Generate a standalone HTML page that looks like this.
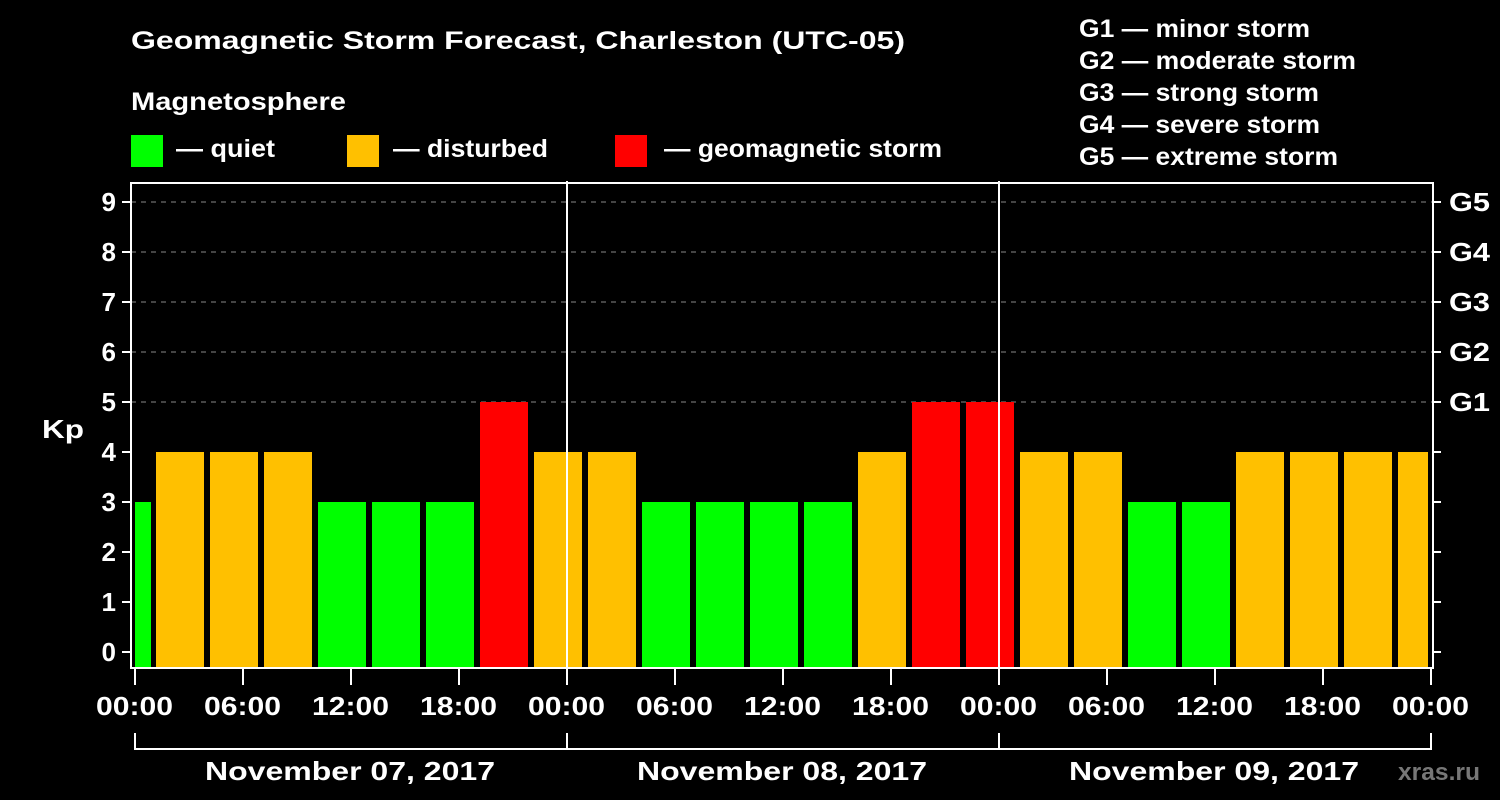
<!DOCTYPE html><html><head><style>body{margin:0;background:#000}svg{display:block}text{font-family:"Liberation Sans",sans-serif;font-weight:bold;fill:#fff}</style></head><body>
<svg width="1500" height="800" xmlns="http://www.w3.org/2000/svg">
<rect width="1500" height="800" fill="#000"/>
<g font-size="25" lengthAdjust="spacingAndGlyphs">
<text x="131" y="49" textLength="774" lengthAdjust="spacingAndGlyphs">Geomagnetic Storm Forecast, Charleston (UTC-05)</text>
<text x="131" y="110" textLength="215" lengthAdjust="spacingAndGlyphs">Magnetosphere</text>
<text x="176" y="157" textLength="99" lengthAdjust="spacingAndGlyphs">— quiet</text>
<text x="393" y="157" textLength="155" lengthAdjust="spacingAndGlyphs">— disturbed</text>
<text x="664" y="157" textLength="278" lengthAdjust="spacingAndGlyphs">— geomagnetic storm</text>
<text x="1079" y="37" textLength="231" lengthAdjust="spacingAndGlyphs">G1 — minor storm</text>
<text x="1079" y="69" textLength="277" lengthAdjust="spacingAndGlyphs">G2 — moderate storm</text>
<text x="1079" y="101" textLength="240" lengthAdjust="spacingAndGlyphs">G3 — strong storm</text>
<text x="1079" y="133" textLength="241" lengthAdjust="spacingAndGlyphs">G4 — severe storm</text>
<text x="1079" y="165" textLength="259" lengthAdjust="spacingAndGlyphs">G5 — extreme storm</text>
</g>
<rect x="131" y="135" width="32" height="32" fill="#00ff00"/>
<rect x="347" y="135" width="32" height="32" fill="#ffc000"/>
<rect x="615" y="135" width="32" height="32" fill="#ff0000"/>
<g stroke="#888" stroke-width="1" stroke-dasharray="5,5">
<line x1="131" x2="1433" y1="202" y2="202"/><line x1="131" x2="1433" y1="252" y2="252"/><line x1="131" x2="1433" y1="302" y2="302"/><line x1="131" x2="1433" y1="352" y2="352"/><line x1="131" x2="1433" y1="402" y2="402"/></g>
<g stroke="#fff" stroke-width="2" fill="none">
<rect x="131" y="183" width="1302" height="485"/>
<line x1="567" x2="567" y1="181" y2="668"/><line x1="999" x2="999" y1="181" y2="668"/>
<path d="M122 202H131M122 252H131M122 302H131M122 352H131M122 402H131M122 452H131M122 502H131M122 552H131M122 602H131M122 652H131"/>
<path d="M1433 202H1441M1433 252H1441M1433 302H1441M1433 352H1441M1433 402H1441M1433 452H1441M1433 502H1441M1433 552H1441M1433 602H1441M1433 652H1441"/>
<path d="M135 668V685M243 668V685M351 668V685M459 668V685M567 668V685M675 668V685M783 668V685M891 668V685M999 668V685M1107 668V685M1215 668V685M1323 668V685M1431 668V685"/>
<path d="M135 733V749H1431V733M567 733V749M999 733V749"/>
</g>
<g font-size="26" text-anchor="end"><text x="116" y="211">9</text><text x="116" y="261">8</text><text x="116" y="311">7</text><text x="116" y="361">6</text><text x="116" y="411">5</text><text x="116" y="461">4</text><text x="116" y="511">3</text><text x="116" y="561">2</text><text x="116" y="611">1</text><text x="116" y="661">0</text></g>
<text x="42" y="438" font-size="26" textLength="42" lengthAdjust="spacingAndGlyphs">Kp</text>
<g font-size="26"><text x="1449" y="211" textLength="41" lengthAdjust="spacingAndGlyphs">G5</text><text x="1449" y="261" textLength="41" lengthAdjust="spacingAndGlyphs">G4</text><text x="1449" y="311" textLength="41" lengthAdjust="spacingAndGlyphs">G3</text><text x="1449" y="361" textLength="41" lengthAdjust="spacingAndGlyphs">G2</text><text x="1449" y="411" textLength="41" lengthAdjust="spacingAndGlyphs">G1</text></g>
<g font-size="26">
<text x="96" y="715" textLength="77" lengthAdjust="spacingAndGlyphs">00:00</text>
<text x="204" y="715" textLength="77" lengthAdjust="spacingAndGlyphs">06:00</text>
<text x="312" y="715" textLength="77" lengthAdjust="spacingAndGlyphs">12:00</text>
<text x="420" y="715" textLength="77" lengthAdjust="spacingAndGlyphs">18:00</text>
<text x="528" y="715" textLength="77" lengthAdjust="spacingAndGlyphs">00:00</text>
<text x="636" y="715" textLength="77" lengthAdjust="spacingAndGlyphs">06:00</text>
<text x="744" y="715" textLength="77" lengthAdjust="spacingAndGlyphs">12:00</text>
<text x="852" y="715" textLength="77" lengthAdjust="spacingAndGlyphs">18:00</text>
<text x="960" y="715" textLength="77" lengthAdjust="spacingAndGlyphs">00:00</text>
<text x="1068" y="715" textLength="77" lengthAdjust="spacingAndGlyphs">06:00</text>
<text x="1176" y="715" textLength="77" lengthAdjust="spacingAndGlyphs">12:00</text>
<text x="1284" y="715" textLength="77" lengthAdjust="spacingAndGlyphs">18:00</text>
<text x="1392" y="715" textLength="77" lengthAdjust="spacingAndGlyphs">00:00</text>
<text x="205" y="780" textLength="290" lengthAdjust="spacingAndGlyphs">November 07, 2017</text>
<text x="637" y="780" textLength="290" lengthAdjust="spacingAndGlyphs">November 08, 2017</text>
<text x="1069" y="780" textLength="290" lengthAdjust="spacingAndGlyphs">November 09, 2017</text></g>
<text x="1398" y="780" font-size="24" textLength="82" lengthAdjust="spacingAndGlyphs" style="fill:#777">xras.ru</text>
<g>
<rect x="135" y="502" width="16" height="166" fill="#00ff00"/>
<rect x="156" y="452" width="48" height="216" fill="#ffc000"/>
<rect x="210" y="452" width="48" height="216" fill="#ffc000"/>
<rect x="264" y="452" width="48" height="216" fill="#ffc000"/>
<rect x="318" y="502" width="48" height="166" fill="#00ff00"/>
<rect x="372" y="502" width="48" height="166" fill="#00ff00"/>
<rect x="426" y="502" width="48" height="166" fill="#00ff00"/>
<rect x="480" y="402" width="48" height="266" fill="#ff0000"/>
<rect x="534" y="452" width="48" height="216" fill="#ffc000"/>
<rect x="588" y="452" width="48" height="216" fill="#ffc000"/>
<rect x="642" y="502" width="48" height="166" fill="#00ff00"/>
<rect x="696" y="502" width="48" height="166" fill="#00ff00"/>
<rect x="750" y="502" width="48" height="166" fill="#00ff00"/>
<rect x="804" y="502" width="48" height="166" fill="#00ff00"/>
<rect x="858" y="452" width="48" height="216" fill="#ffc000"/>
<rect x="912" y="402" width="48" height="266" fill="#ff0000"/>
<rect x="966" y="402" width="48" height="266" fill="#ff0000"/>
<rect x="1020" y="452" width="48" height="216" fill="#ffc000"/>
<rect x="1074" y="452" width="48" height="216" fill="#ffc000"/>
<rect x="1128" y="502" width="48" height="166" fill="#00ff00"/>
<rect x="1182" y="502" width="48" height="166" fill="#00ff00"/>
<rect x="1236" y="452" width="48" height="216" fill="#ffc000"/>
<rect x="1290" y="452" width="48" height="216" fill="#ffc000"/>
<rect x="1344" y="452" width="48" height="216" fill="#ffc000"/>
<rect x="1398" y="452" width="30" height="216" fill="#ffc000"/>
</g>
<g stroke="#fff" stroke-width="2" fill="none"><path d="M131 668H1433M567 452V668M999 402V668"/></g>
</svg></body></html>
